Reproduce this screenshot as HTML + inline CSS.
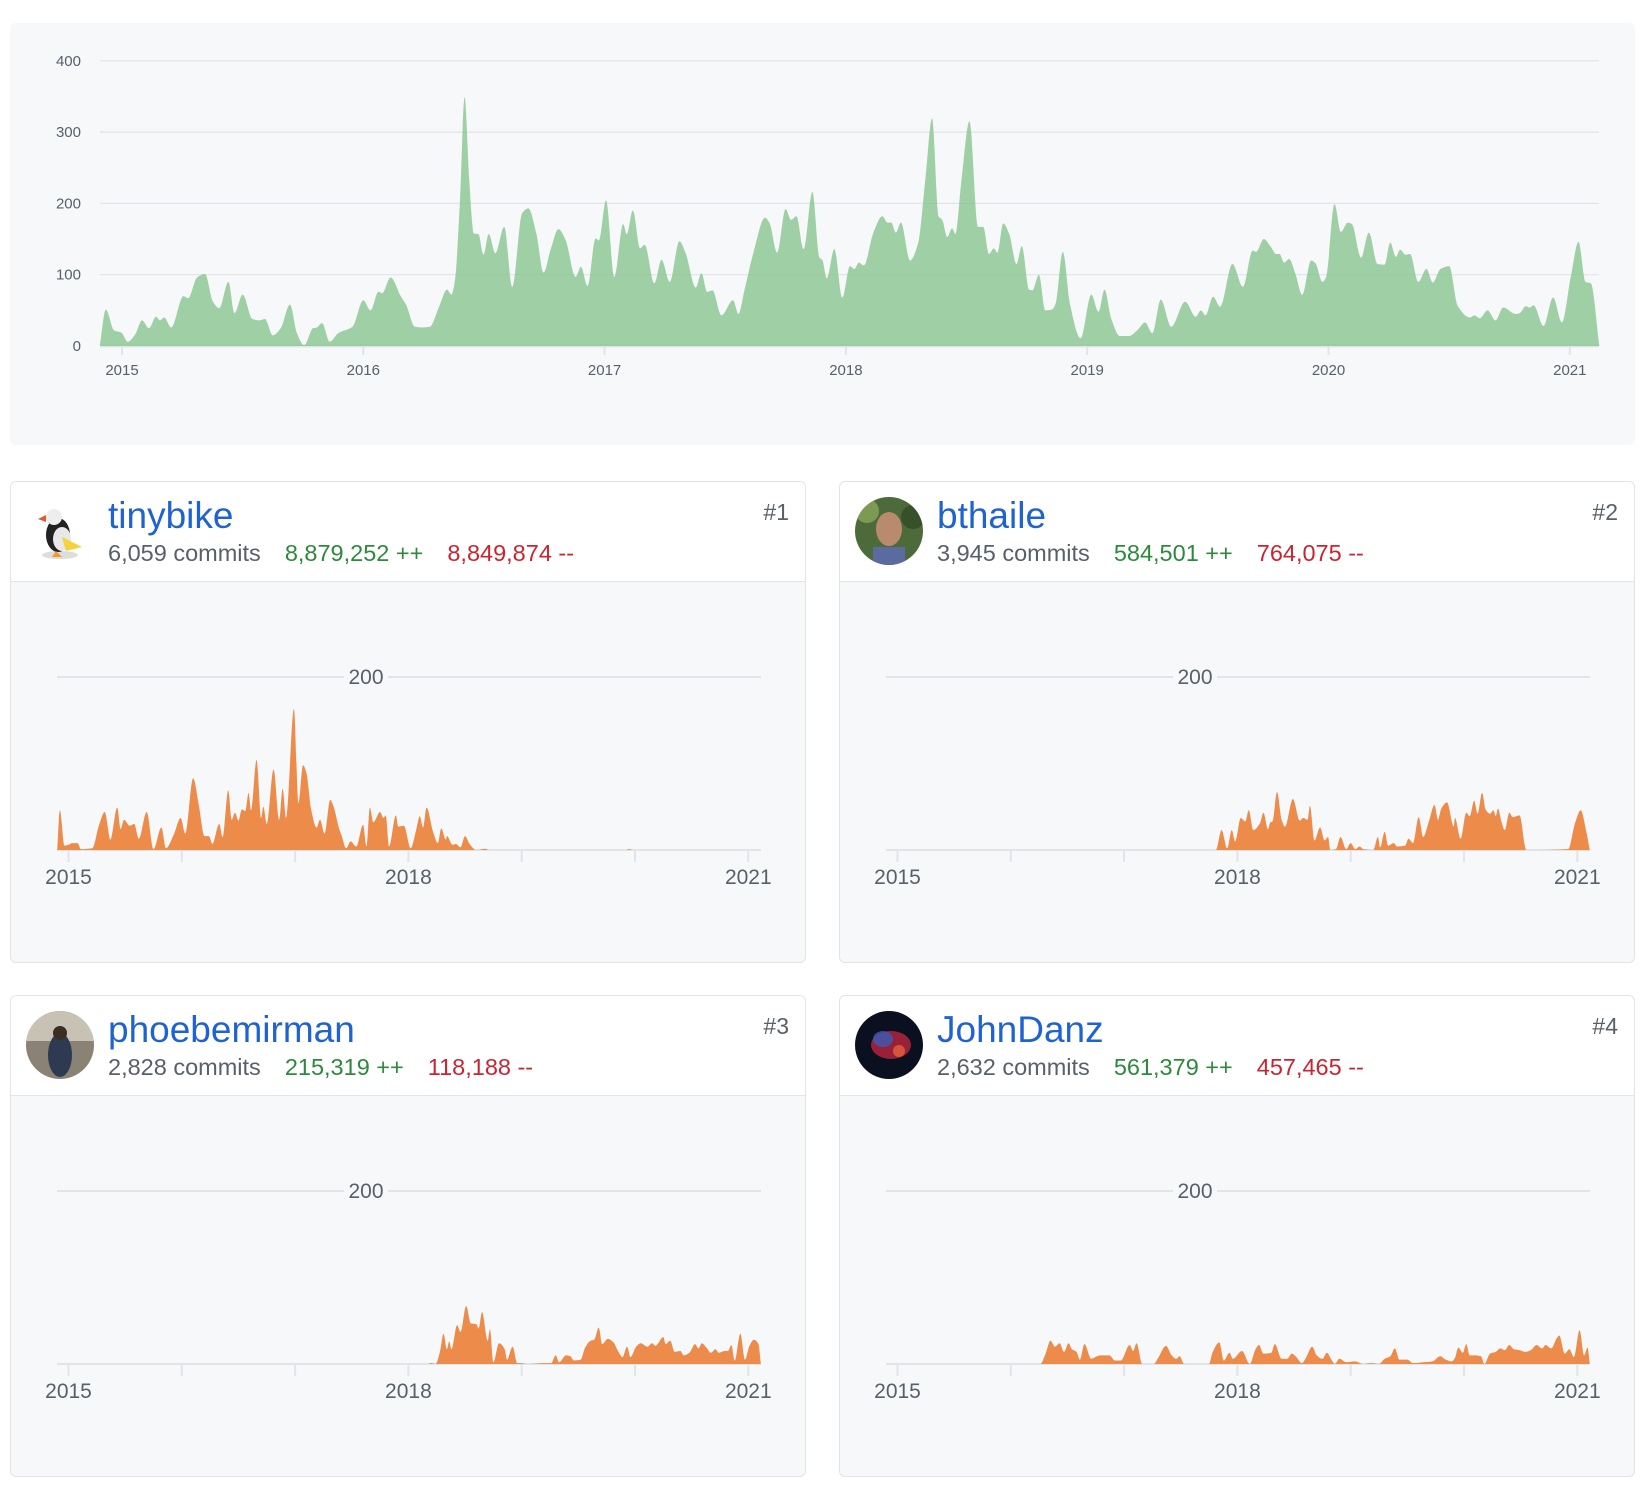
<!DOCTYPE html>
<html><head><meta charset="utf-8">
<style>
html,body{margin:0;padding:0;background:#fff;width:1648px;height:1504px;overflow:hidden;font-family:"Liberation Sans",sans-serif;}
#top{position:absolute;left:10px;top:23px;width:1625px;height:422px;background:#f6f8fa;border-radius:6px;}
.card{position:absolute;width:796px;height:482px;background:#f6f8fa;border:1px solid #e1e4e8;border-radius:6px;box-sizing:border-box;overflow:hidden;}
.card svg{position:absolute;left:0;top:0;}
.hdr{position:absolute;left:0;top:0;width:100%;height:99px;background:#fff;border-bottom:1px solid #e1e4e8;}
.av{position:absolute;left:15px;top:15px;width:68px;height:68px;border-radius:50%;overflow:hidden;}
.name{position:absolute;left:97px;top:12px;font-size:37px;color:#1f63d2;line-height:44px;}
.stats{position:absolute;left:97px;top:57px;font-size:23.5px;line-height:28px;color:#586069;white-space:nowrap;}
.stats span{margin-right:24px;}
.add{color:#2c8a3c;}
.del{color:#cb2431;}
.rank{position:absolute;right:16px;top:17px;font-size:23px;color:#586069;}
</style></head><body>
<div id="top">
<svg id="topsvg" width="1625" height="422"></svg>
</div>

<div class="card" id="card1" style="left:10px;top:481px">
<svg id="svg1" width="796" height="482"></svg>
<div class="hdr">
<div class="av"><svg width="68" height="68"><rect width="68" height="68" fill="#fff"/><ellipse cx="34" cy="58" rx="18" ry="4" fill="#ddd"/><ellipse cx="32" cy="38" rx="12" ry="17" fill="#222"/><ellipse cx="36" cy="42" rx="9" ry="12" fill="#e8e8e8"/><path d="M36 40 L56 50 L40 54 Z" fill="#f3d23a"/><circle cx="28" cy="20" r="8" fill="#eee"/><path d="M20 18 L12 22 L20 25 Z" fill="#e2572b"/><path d="M30 54 L26 60 L36 60 Z" fill="#f29a2e"/></svg></div>
<div class="name">tinybike</div>
<div class="stats"><span>6,059 commits</span><span class="add">8,879,252 ++</span><span class="del">8,849,874 --</span></div>
<div class="rank">#1</div>
</div></div>

<div class="card" id="card2" style="left:839px;top:481px">
<svg id="svg2" width="796" height="482"></svg>
<div class="hdr">
<div class="av"><svg width="68" height="68"><rect width="68" height="68" fill="#4d6a3a"/><circle cx="12" cy="14" r="12" fill="#7d9a55"/><circle cx="58" cy="20" r="12" fill="#36502a"/><ellipse cx="34" cy="32" rx="13" ry="17" fill="#b98b6e"/><rect x="18" y="50" width="32" height="20" fill="#5b6aa0"/></svg></div>
<div class="name">bthaile</div>
<div class="stats"><span>3,945 commits</span><span class="add">584,501 ++</span><span class="del">764,075 --</span></div>
<div class="rank">#2</div>
</div></div>

<div class="card" id="card3" style="left:10px;top:995px">
<svg id="svg3" width="796" height="482"></svg>
<div class="hdr">
<div class="av"><svg width="68" height="68"><rect width="68" height="68" fill="#8a8274"/><rect x="0" y="0" width="68" height="30" fill="#c8c2b4"/><ellipse cx="34" cy="44" rx="12" ry="22" fill="#2e3a52"/><circle cx="34" cy="22" r="7" fill="#3a2d24"/></svg></div>
<div class="name">phoebemirman</div>
<div class="stats"><span>2,828 commits</span><span class="add">215,319 ++</span><span class="del">118,188 --</span></div>
<div class="rank">#3</div>
</div></div>

<div class="card" id="card4" style="left:839px;top:995px">
<svg id="svg4" width="796" height="482"></svg>
<div class="hdr">
<div class="av"><svg width="68" height="68"><rect width="68" height="68" fill="#0b1020"/><ellipse cx="36" cy="34" rx="20" ry="14" fill="#a8233a" opacity="0.9"/><ellipse cx="28" cy="28" rx="10" ry="8" fill="#3b5bb5" opacity="0.8"/><circle cx="44" cy="40" r="6" fill="#d6543e"/></svg></div>
<div class="name">JohnDanz</div>
<div class="stats"><span>2,632 commits</span><span class="add">561,379 ++</span><span class="del">457,465 --</span></div>
<div class="rank">#4</div>
</div></div>

<script>
const totalDates=[2014.908,2014.933,2014.967,2014.997,2015.024,2015.056,2015.083,2015.112,2015.141,2015.157,2015.175,2015.204,2015.255,2015.274,2015.311,2015.344,2015.377,2015.403,2015.441,2015.466,2015.5,2015.54,2015.57,2015.592,2015.625,2015.658,2015.696,2015.725,2015.755,2015.792,2015.807,2015.829,2015.861,2015.896,2015.955,2016.0,2016.03,2016.063,2016.078,2016.113,2016.155,2016.177,2016.214,2016.243,2016.276,2016.314,2016.347,2016.365,2016.38,2016.4,2016.42,2016.439,2016.458,2016.477,2016.498,2016.52,2016.547,2016.584,2016.617,2016.658,2016.684,2016.717,2016.747,2016.776,2016.809,2016.838,2016.88,2016.902,2016.929,2016.963,2016.976,2017.006,2017.04,2017.077,2017.092,2017.117,2017.147,2017.166,2017.206,2017.236,2017.27,2017.31,2017.336,2017.378,2017.401,2017.425,2017.447,2017.484,2017.532,2017.555,2017.58,2017.617,2017.665,2017.684,2017.715,2017.75,2017.773,2017.795,2017.825,2017.861,2017.89,2017.902,2017.921,2017.952,2017.985,2018.017,2018.035,2018.054,2018.074,2018.114,2018.151,2018.173,2018.188,2018.207,2018.228,2018.266,2018.299,2018.329,2018.357,2018.384,2018.399,2018.42,2018.44,2018.454,2018.479,2018.512,2018.548,2018.569,2018.593,2018.613,2018.628,2018.652,2018.677,2018.707,2018.729,2018.759,2018.773,2018.8,2018.826,2018.854,2018.869,2018.899,2018.928,2018.973,2019.017,2019.047,2019.072,2019.099,2019.136,2019.173,2019.21,2019.24,2019.27,2019.305,2019.348,2019.406,2019.45,2019.471,2019.49,2019.522,2019.551,2019.602,2019.645,2019.686,2019.7,2019.732,2019.761,2019.783,2019.797,2019.816,2019.837,2019.862,2019.891,2019.928,2019.946,2019.975,2019.99,2020.025,2020.051,2020.08,2020.097,2020.135,2020.167,2020.203,2020.232,2020.256,2020.279,2020.297,2020.319,2020.338,2020.372,2020.406,2020.432,2020.464,2020.5,2020.536,2020.587,2020.604,2020.627,2020.659,2020.692,2020.724,2020.775,2020.792,2020.818,2020.833,2020.85,2020.891,2020.931,2020.967,2021.004,2021.036,2021.065,2021.087,2021.123];
const totalCommits=[0,51,22,19,6,17,36,25,41,36,40,26,70,67,96,101,62,53,90,46,72,38,36,38,15,25,58,18,1,25,26,32,6,18,27,64,50,76,74,96,70,58,27,26,27,55,79,72,93,200,349,233,158,157,128,157,130,167,83,186,193,158,103,135,164,149,97,111,84,151,148,204,97,171,157,190,137,142,88,121,90,147,130,82,102,76,78,43,64,45,79,131,180,172,131,192,177,182,136,216,124,121,95,136,68,112,108,117,113,159,182,173,173,159,173,120,144,233,319,182,177,153,165,157,233,315,167,167,129,137,131,172,157,115,140,79,78,100,50,51,59,132,60,11,72,48,79,39,14,14,23,33,18,65,27,62,41,50,43,69,55,115,83,134,132,150,139,129,129,117,122,102,72,120,116,90,97,199,160,173,171,124,159,115,114,145,125,135,128,129,90,108,89,108,112,56,40,43,39,50,36,54,45,46,56,54,57,28,68,33,97,146,90,88,0];
const yTicks=[0,100,200,300,400];
const topYears=[2015,2016,2017,2018,2019,2020,2021];

const d1=[2014.9,2014.924,2014.965,2015.0,2015.03,2015.08,2015.11,2015.21,2015.27,2015.32,2015.37,2015.43,2015.46,2015.49,2015.54,2015.58,2015.62,2015.69,2015.75,2015.82,2015.86,2015.93,2015.99,2016.03,2016.1,2016.15,2016.2,2016.24,2016.27,2016.33,2016.36,2016.41,2016.44,2016.47,2016.5,2016.53,2016.56,2016.59,2016.61,2016.66,2016.7,2016.72,2016.75,2016.81,2016.86,2016.89,2016.92,2016.99,2017.03,2017.07,2017.1,2017.14,2017.19,2017.22,2017.26,2017.31,2017.34,2017.39,2017.41,2017.45,2017.49,2017.54,2017.6,2017.63,2017.66,2017.69,2017.75,2017.78,2017.8,2017.83,2017.89,2017.91,2017.96,2018.02,2018.07,2018.1,2018.13,2018.16,2018.22,2018.26,2018.29,2018.33,2018.34,2018.39,2018.42,2018.46,2018.5,2018.54,2018.6,2018.68,2018.71,2019.92,2019.95,2019.98,2021.11];
const c1=[0,46,5,6,8,8,1,2,29,44,12,49,24,35,28,30,13,44,1,26,2,18,37,19,83,52,16,16,7,30,15,69,35,43,34,47,45,66,46,104,37,50,30,93,35,71,37,163,54,98,89,48,26,35,19,58,50,24,17,2,10,4,29,4,49,32,44,37,40,4,40,27,28,2,24,39,26,49,20,8,25,12,16,6,7,3,16,7,0,1.5,0,0,1,0,0];
const d2=[2014.9,2017.81,2017.86,2017.91,2017.95,2017.98,2018.03,2018.07,2018.1,2018.14,2018.2,2018.23,2018.27,2018.29,2018.31,2018.35,2018.39,2018.42,2018.49,2018.55,2018.58,2018.62,2018.64,2018.68,2018.73,2018.77,2018.8,2018.82,2018.87,2018.91,2018.96,2019.0,2019.04,2019.08,2019.11,2019.2,2019.24,2019.26,2019.3,2019.33,2019.38,2019.41,2019.48,2019.51,2019.55,2019.6,2019.64,2019.69,2019.74,2019.77,2019.8,2019.85,2019.91,2019.92,2019.97,2020.02,2020.05,2020.09,2020.12,2020.16,2020.19,2020.23,2020.26,2020.28,2020.3,2020.33,2020.36,2020.4,2020.43,2020.46,2020.49,2020.55,2020.92,2020.98,2021.03,2021.08,2021.11];
const c2=[0,0,23,2,23,10,37,33,46,23,31,43,24,32,33,67,35,27,59,34,37,35,51,11,26,11,15,0,1,15,1,8,1,4,1,0,15,3,21,5,8,4,5,13,8,38,15,33,52,35,48,55,27,37,13,43,39,57,42,66,47,42,46,39,48,33,23,43,38,39,40,0,1,31,46,21,0];
const d3=[2014.9,2018.17,2018.2,2018.24,2018.28,2018.31,2018.34,2018.36,2018.38,2018.43,2018.46,2018.51,2018.55,2018.6,2018.62,2018.65,2018.7,2018.72,2018.75,2018.8,2018.85,2018.87,2018.92,2018.96,2018.99,2019.05,2019.21,2019.26,2019.3,2019.33,2019.39,2019.43,2019.46,2019.52,2019.56,2019.61,2019.64,2019.68,2019.71,2019.76,2019.81,2019.85,2019.89,2019.93,2019.96,2020.01,2020.05,2020.11,2020.15,2020.18,2020.25,2020.27,2020.31,2020.35,2020.4,2020.43,2020.48,2020.53,2020.56,2020.59,2020.63,2020.67,2020.71,2020.74,2020.79,2020.82,2020.85,2020.88,2020.93,2020.97,2021.01,2021.05,2021.09,2021.11];
const c3=[0,0,1,0,15,35,17,26,17,45,37,67,47,46,41,60,27,40,2,24,17,5,20,1,1,0,1,1,10,2,10,9,4,5,19,27,28,42,23,29,25,15,8,20,8,20,24,20,24,21,31,23,27,14,15,10,13,23,18,24,19,13,17,13,15,15,22,4,35,5,21,28,23,1];
const d4=[2014.9,2016.26,2016.31,2016.35,2016.39,2016.43,2016.47,2016.51,2016.54,2016.58,2016.61,2016.65,2016.71,2016.76,2016.79,2016.83,2016.87,2016.92,2016.97,2017.05,2017.08,2017.11,2017.16,2017.26,2017.3,2017.37,2017.42,2017.46,2017.49,2017.53,2017.75,2017.78,2017.84,2017.88,2017.93,2017.96,2018.04,2018.11,2018.16,2018.19,2018.23,2018.3,2018.33,2018.39,2018.44,2018.48,2018.52,2018.57,2018.6,2018.66,2018.7,2018.75,2018.79,2018.83,2018.86,2018.9,2018.96,2019.04,2019.11,2019.18,2019.25,2019.3,2019.35,2019.39,2019.43,2019.5,2019.55,2019.64,2019.72,2019.79,2019.84,2019.89,2019.92,2019.95,2019.99,2020.02,2020.05,2020.1,2020.15,2020.18,2020.23,2020.28,2020.32,2020.36,2020.4,2020.44,2020.49,2020.54,2020.59,2020.64,2020.69,2020.72,2020.77,2020.82,2020.84,2020.89,2020.93,2020.97,2021.02,2021.06,2021.09,2021.11];
const c4=[0,0,13,27,20,24,14,24,17,14,5,23,6,9,10,10,10,4,4,22,15,24,0,0,7,21,10,6,9,0,0,13,25,4,13,6,15,0,17,22,12,13,23,6,6,12,8,1,6,20,10,6,13,5,0,6,2,3,0,1,0,6,9,18,5,5,1,2,3,9,5,3,7,19,13,23,10,10,9,0,12,14,18,16,22,17,16,14,16,22,18,22,18,30,33,12,17,8,39,10,19,0];
const cardYears=[2015,2016,2017,2018,2019,2020,2021];
const cardYearLabels=['2015','','','2018','','','2021'];
const cardGrid=[200];

const NS='http://www.w3.org/2000/svg';
function mk(tag,attrs,parent){const e=document.createElementNS(NS,tag);for(const k in attrs)e.setAttribute(k,attrs[k]);parent.appendChild(e);return e;}
function monotonePath(px,py){
  const n=px.length;const dx=[],m=[],t=[];
  for(let i=0;i<n-1;i++){dx.push(px[i+1]-px[i]);m.push((py[i+1]-py[i])/(px[i+1]-px[i]||1e-6));}
  t[0]=m[0];t[n-1]=m[n-2];
  for(let i=1;i<n-1;i++){if(m[i-1]*m[i]<=0)t[i]=0;else{t[i]=3*(dx[i-1]+dx[i])/((2*dx[i]+dx[i-1])/m[i-1]+(dx[i]+2*dx[i-1])/m[i]);}}
  let d='M'+px[0]+','+py[0];
  for(let i=0;i<n-1;i++){const h=dx[i]/3;d+=' C'+(px[i]+h)+','+(py[i]+h*t[i])+' '+(px[i+1]-h)+','+(py[i+1]-h*t[i+1])+' '+px[i+1]+','+py[i+1];}
  return d;
}
function area(svg,dates,vals,xf,yf,color,name){
  const px=dates.map(xf),py=vals.map(yf);
  const base=yf(0);
  const d=monotonePath(px,py)+' L'+px[px.length-1]+','+base+' L'+px[0]+','+base+' Z';
  const p=mk('path',{d:d,fill:color},svg);
  
  
}

(function(){
  const svg=document.getElementById('topsvg');
  const x=t=>112+(t-2015)*241.3;
  const y=v=>323-v*0.713;
  yTicks.forEach(v=>{
    const l=mk('line',{x1:90,x2:1589,y1:y(v),y2:y(v),stroke:'#e1e4e8','stroke-width':v===0?3:1.2},svg);
    
    
    const tx=mk('text',{x:71,y:y(v)+5,'text-anchor':'end','font-size':15,fill:'#586069','font-family':'Liberation Sans, sans-serif'},svg);
    tx.textContent=v;
    
    
  });
  topYears.forEach(yr=>{
    const l=mk('line',{x1:x(yr),x2:x(yr),y1:y(0),y2:y(0)+9,stroke:'#e1e4e8','stroke-width':2},svg);
    
    
    const tx=mk('text',{x:x(yr),y:y(0)+29,'text-anchor':'middle','font-size':15,fill:'#586069','font-family':'Liberation Sans, sans-serif'},svg);
    tx.textContent=yr;
    
    
  });
  area(svg,totalDates,totalCommits,x,y,'rgba(125,193,132,0.72)','total-commits-area');
})();

function card(id,dates,vals){
  const svg=document.getElementById(id);
  const x=t=>57.5+(t-2015)*113.3;
  const y=v=>368-v*0.865;
  cardGrid.forEach(v=>{
    const l=mk('line',{x1:46,x2:750,y1:y(v),y2:y(v),stroke:'#e1e4e8','stroke-width':2},svg);
    
    
  });
  mk('line',{x1:46,x2:750,y1:y(0),y2:y(0),stroke:'#e1e4e8','stroke-width':2},svg);
  cardYears.forEach((yr,i)=>{
    const l=mk('line',{x1:x(yr),x2:x(yr),y1:y(0),y2:y(0)+12,stroke:'#e1e4e8','stroke-width':2},svg);
    
    
    if(cardYearLabels[i]){
      const tx=mk('text',{x:x(yr),y:y(0)+34,'text-anchor':'middle','font-size':21,fill:'#586069','font-family':'Liberation Sans, sans-serif'},svg);
      tx.textContent=cardYearLabels[i];
      
      
    }
  });
  area(svg,dates,vals,x,y,'#ed8c4a','contributor-commits-area');
  cardGrid.forEach(v=>{
    mk('rect',{x:333,y:y(v)-12,width:44,height:24,fill:'#f6f8fa'},svg);
    const tx=mk('text',{x:355,y:y(v)+7,'text-anchor':'middle','font-size':21,fill:'#586069','font-family':'Liberation Sans, sans-serif'},svg);
    tx.textContent=v;
    
    
  });
}
card('svg1',d1,c1);
card('svg2',d2,c2);
card('svg3',d3,c3);
card('svg4',d4,c4);
</script>
</body></html>
